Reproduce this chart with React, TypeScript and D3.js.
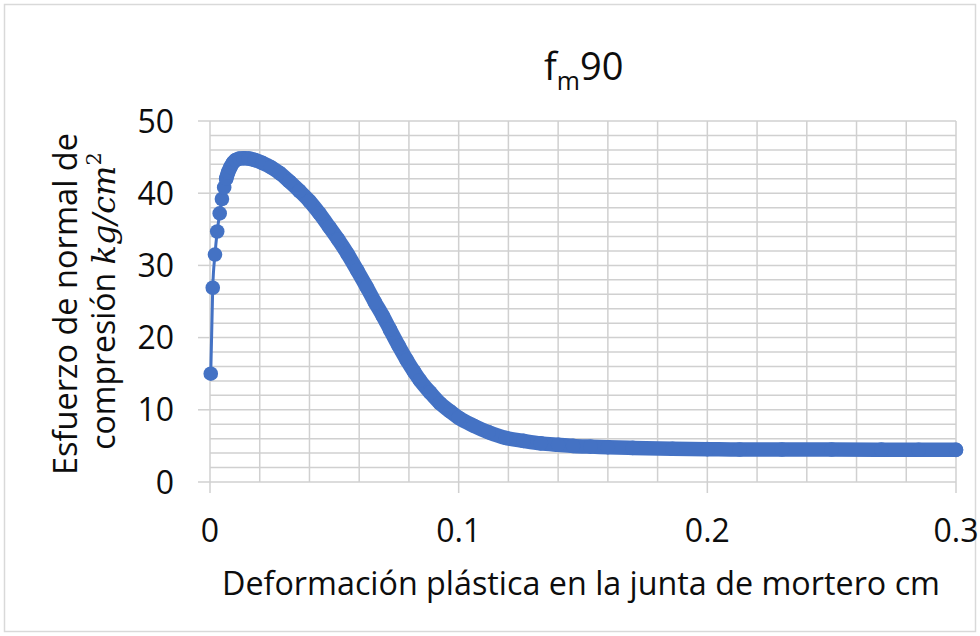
import React from "react";
import * as d3 from "d3";

const strainCm = [
  0.0003, 0.0011, 0.002, 0.0029, 0.0039, 0.0048, 0.0057, 0.0065, 0.0073, 0.0082,
  0.0092, 0.0104, 0.0118, 0.0135, 0.0155, 0.018, 0.021, 0.0245, 0.028, 0.032,
  0.036, 0.04, 0.044, 0.048, 0.0515, 0.0553, 0.0592, 0.063, 0.0663, 0.0695,
  0.0724, 0.0758, 0.0791, 0.082, 0.0844, 0.0885, 0.0925, 0.0965, 0.1, 0.106,
  0.112, 0.119, 0.126, 0.133, 0.14, 0.146, 0.153, 0.16, 0.17, 0.186,
  0.2, 0.213, 0.23, 0.25, 0.27, 0.285, 0.3,
];
const stressKgCm2 = [
  15.0, 26.9, 31.5, 34.7, 37.2, 39.2, 40.8, 42.0, 42.9, 43.6,
  44.2, 44.6, 44.8, 44.85, 44.8, 44.6, 44.2, 43.6, 42.8, 41.6,
  40.3, 38.9, 37.2, 35.3, 33.6, 31.6, 29.3, 27.0, 24.9, 23.0,
  21.1, 18.9, 16.9, 15.3, 14.1, 12.4, 10.9, 9.8, 8.9, 7.8,
  6.9, 6.1, 5.7, 5.35, 5.15, 5.0, 4.9, 4.82, 4.72, 4.6,
  4.55, 4.5, 4.5, 4.5, 4.48, 4.46, 4.45,
];
const xTickValues = [0, 0.1, 0.2, 0.3];
const xTickLabels = ["0", "0.1", "0.2", "0.3"];
const yTickValues = [0, 10, 20, 30, 40, 50];
const yTickLabels = ["0", "10", "20", "30", "40", "50"];

const FONT = "'Open Sans', 'Liberation Sans', sans-serif";
const MATH = "'DejaVu Serif', 'Liberation Serif', serif";
const BLUE = "#4472C4";
const GRID = "#D0D0D0";
const INK = "#0d0d0d";

export default function App() {
  const W = 980;
  const H = 636;
  const x = d3.scaleLinear().domain([0, 0.3]).range([210, 956]);
  const y = d3.scaleLinear().domain([0, 50]).range([482, 121]);
  const pts: [number, number][] = strainCm.map((s, i) => [s, stressKgCm2[i]]);
  const line = d3
    .line<[number, number]>()
    .x((d) => x(d[0]))
    .y((d) => y(d[1]))
    .curve(d3.curveMonotoneX);
  const densePts = pts.slice(7);
  const xGrid = d3.range(0, 15 + 1).map((i) => i * 0.02);
  const yGrid = d3.range(0, 25 + 1).map((i) => i * 2);

  return (
    <svg
      width={W}
      height={H}
      style={{ position: "absolute", left: 0, top: 0, background: "#fff" }}
      fontFamily={FONT}
    >
      <rect x={0} y={0} width={W} height={H} fill="#fff" />
      <rect x={4.5} y={4.5} width={W - 9} height={H - 9} fill="none" stroke="#D9D9D9" strokeWidth={1.5} />

      {/* grid */}
      {yGrid.map((v) => (
        <line key={"hy" + v} x1={x(0)} x2={x(0.3)} y1={y(v)} y2={y(v)} stroke={GRID} strokeWidth={1.5} />
      ))}
      {xGrid.map((v) => (
        <line key={"vx" + v} x1={x(v)} x2={x(v)} y1={y(0)} y2={y(50)} stroke={GRID} strokeWidth={1.5} />
      ))}

      {/* ticks */}
      {yTickValues.map((v) => (
        <line key={"yt" + v} x1={198} x2={x(0)} y1={y(v)} y2={y(v)} stroke={GRID} strokeWidth={1.5} />
      ))}
      {xTickValues.map((v) => (
        <line key={"xt" + v} x1={x(v)} x2={x(v)} y1={y(0)} y2={y(0) + 11} stroke={GRID} strokeWidth={1.5} />
      ))}

      {/* tick labels */}
      {yTickValues.map((v, i) => (
        <text key={"yl" + v} x={174} y={y(v) + 11.5} textAnchor="end" fontSize={32} fill={INK}>
          {yTickLabels[i]}
        </text>
      ))}
      {xTickValues.map((v, i) => (
        <text key={"xl" + v} x={x(v)} y={542} textAnchor="middle" fontSize={32} fill={INK}>
          {xTickLabels[i]}
        </text>
      ))}

      {/* series */}
      <path d={line(pts) || ""} fill="none" stroke={BLUE} strokeWidth={3} strokeLinejoin="round" />
      <path
        d={line(densePts) || ""}
        fill="none"
        stroke={BLUE}
        strokeWidth={14.5}
        strokeLinejoin="round"
        strokeLinecap="round"
      />
      {pts.map((d, i) => (
        <circle key={"p" + i} cx={x(d[0])} cy={y(d[1])} r={7.3} fill={BLUE} />
      ))}

      {/* title */}
      <text x={544} y={80} fontSize={38} fill={INK}>
        <tspan>f</tspan>
        <tspan fontSize={25} dy={10}>m</tspan>
        <tspan dy={-10}>90</tspan>
      </text>

      {/* x axis title */}
      <text x={581} y={595} textAnchor="middle" fontSize={32} fill={INK} textLength={718} lengthAdjust="spacingAndGlyphs">
        Deformación plástica en la junta de mortero cm
      </text>

      {/* y axis title */}
      <g transform="translate(77,304) rotate(-90)">
        <text x={0} y={0} textAnchor="middle" fontSize={32} fill={INK} textLength={342} lengthAdjust="spacingAndGlyphs">
          Esfuerzo de normal de
        </text>
      </g>
      <g transform="translate(115,301) rotate(-90)">
        <text x={0} y={0} textAnchor="middle" fontSize={32} fill={INK}>
          <tspan>compresión </tspan>
          <tspan fontFamily={MATH} fontStyle="italic" fontSize={32}>kg/cm</tspan>
          <tspan fontFamily={MATH} fontSize={21} dy={-14}>2</tspan>
        </text>
      </g>
    </svg>
  );
}
